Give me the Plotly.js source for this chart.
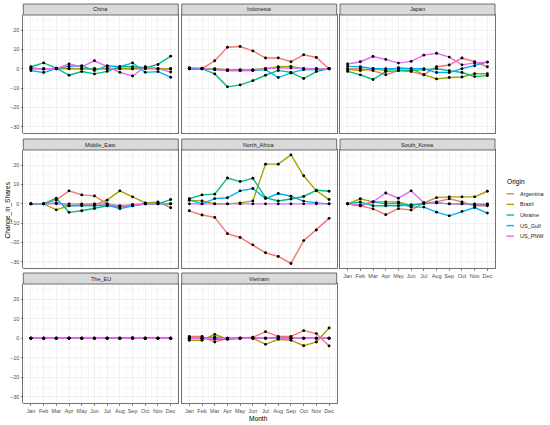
<!DOCTYPE html>
<html>
<head>
<meta charset="utf-8">
<script src="https://cdn.plot.ly/plotly-3.0.1.min.js"></script>
<style>html,body{margin:0;padding:0;background:#fff;}#chart{width:550px;height:425px;}</style>
</head>
<body>
<div id="chart"></div>
<script>
// ---------- data ----------
const months = ['Jan','Feb','Mar','Apr','May','Jun','Jul','Aug','Sep','Oct','Nov','Dec'];
const monthNum = [1,2,3,4,5,6,7,8,9,10,11,12];
const origins = ['Argentina','Brazil','Ukraine','US_Gulf','US_PNW'];
const originColors = ['#F8766D','#A3A500','#00BF7D','#00B0F6','#E76BF3'];
const regions = ['China','Indonesia','Japan','Middle_East','North_Africa','South_Korea','The_EU','Vietnam'];

// each region: [Argentina, Brazil, Ukraine, US_Gulf, US_PNW]
const China = [
  [0.5,-0.3,0.3,0,0,0,0,0,0,0.5,0,0],
  [0,0,0,0,0,0,0,0,0,0,0,0],
  [1,3,0.3,-3.4,-1.5,-2.7,-1.4,1,1,0.5,2.2,6.5],
  [-1,-2,0,1.2,1.5,-1,1.5,1,3,-1.9,-1.5,-4.4],
  [0,0,0,2.4,1,4.1,1,-1.9,-3.8,1,0,-1.7]
];
const Indonesia = [
  [0,0,4.1,11.1,11.5,9.2,5.5,5.6,3.6,7.2,5.8,0],
  [0,0,0,-0.5,-0.5,-0.5,0,1,1.2,0,0,0],
  [0,0,-2.7,-9.4,-8.4,-6.2,-3.4,-0.9,-1.9,-5.1,-1.5,0],
  [0,0,-0.5,-1,-1,-1,-0.5,-4.6,-2.2,-0.5,-0.5,0],
  [0.5,0.3,-0.5,-1,-1,-0.8,0,0.5,0.3,0,0,0]
];
const Japan = [
  [0,0,-1,-3.1,-1,-1.5,-3.1,1,1.9,5.5,3.6,1],
  [-0.5,-1,0,-1,0.5,0,-3.1,-5.3,-4.6,-4.3,-2.6,-2.6],
  [-1.4,-3.2,-5.6,-1.5,-1,-1,-0.5,0,-1,-2,-4.1,-3.6],
  [1.2,1,0,0,0,0,0,-2,-2,0,1.5,3.4],
  [2.4,3.6,6.3,4.8,2.9,3.8,7,8,6,2,3,3.4]
];
const Middle_East = [
  [0,0,2,6.7,4.6,4.1,0,-1,-0.5,0,0.5,0],
  [0,0,-3.1,-1,-0.5,-0.5,1.9,6.7,3.6,0.5,1,-2],
  [0,0,2.9,-4.4,-3.6,-2.4,-1,-1.5,-1,0,0,2.2],
  [0,0,0.5,-1,-1,-1,-0.5,-2.5,-1,0,0,0],
  [0,0,0,0,0,0,0,-1.5,-0.5,0,0,0]
];
const North_Africa = [
  [-3.6,-5.8,-7,-15.4,-17.4,-21.2,-25.3,-27.2,-30.8,-19,-13.5,-7.5],
  [1.8,1.5,0,0,0.5,1.5,20.5,20.5,25.3,14.5,6.7,2.2],
  [2.6,4.6,5,13.3,11.5,13.2,3.2,1.5,2.5,3.8,7,6.5],
  [2,0,2.7,3.1,6.7,7.9,2.7,5.3,3.9,1.4,0.5,0],
  [0,0,0,0,0,0,0,0,0,0,0,0]
];
const South_Korea = [
  [0,-1,-2.6,-5.6,-2.5,-3.2,0.5,1,2.6,1,-1,-1],
  [0,2.6,1,1,1,-1,0.5,3.2,3.6,3.6,3.6,6.5],
  [0,1,-1,-1,-1,-0.5,0,0.5,0,0,-0.5,-0.5],
  [0,-1,1,0,0.3,-1.7,-1.7,-4.3,-6.2,-3.9,-1.9,-4.8],
  [0,-0.5,1,5.6,2.9,6.7,0.5,0.5,0,0,0,0]
];
const The_EU = [
  [0,0,0,0,0,0,0,0,0,0,0,0],
  [0,0,0,0,0,0,0,0,0.3,0,0,0],
  [0,0,0,0,0,0,0,0,0,0,0,0],
  [0,0,0,0,0,0,0,-0.2,0,0,-0.2,0],
  [0,0,0,0,0,0,0,0,0,0,0,0]
];
const Vietnam = [
  [1,1,-1.9,0,0,0.5,3.4,1,1,3.9,2.4,-3.9],
  [-1,-1,2,-0.5,0,0,-3.1,-0.5,-1,-3.8,-1.9,5.3],
  [0,0,0.5,0,0,0,0,0.5,0,0,0,0],
  [0,0,-0.5,-0.5,0,0,0,0,0,0,0,0],
  [0,0,0,0,0,0,0,0,0,0,0,0]
];
const yTicks = [-30,-20,-10,0,10,20];

const regionData = [China, Indonesia, Japan, Middle_East, North_Africa, South_Korea, The_EU, Vietnam];

// ---------- layout geometry (pixels) ----------
const W = 550, H = 425;
const colsPx = [[23.3,178.3],[181.7,336.7],[340,495]];
const rowsPx = [[15,133],[150,268.3],[284,403.3]];
const stripH = 11;
const FONT = 'Liberation Sans, Arial, sans-serif';
const SMALL = 5.5, BIG = 6.6;

const traces = [];
const pointTraces = [];
const layout = {
  width: W, height: H, autosize: false,
  margin: {l:0,r:0,t:0,b:0,pad:0},
  paper_bgcolor: '#ffffff', plot_bgcolor: '#ffffff',
  showlegend: false,
  font: {family: FONT, size: SMALL, color: '#4D4D4D'},
  shapes: [], annotations: []
};

regions.forEach((reg, i) => {
  const row = Math.floor(i/3), col = i % 3;
  const n = i === 0 ? '' : String(i+1);
  const xa = 'x' + n, ya = 'y' + n;
  const data = regionData[i];
  data.forEach((vals, j) => {
    traces.push({
      type: 'scatter', mode: 'lines', x: monthNum, y: vals,
      xaxis: xa, yaxis: ya, line: {color: originColors[j], width: 1.4},
      hoverinfo: 'skip', showlegend: false, name: origins[j]
    });
    pointTraces.push({
      type: 'scatter', mode: 'markers', x: monthNum, y: vals,
      xaxis: xa, yaxis: ya, marker: {color: '#000000', size: 2.9},
      hoverinfo: 'skip', showlegend: false
    });
  });
  const [x0, x1] = colsPx[col];
  const [top, bot] = rowsPx[row];
  const bottomOfCol = (row === 2) || (row === 1 && col === 2);
  const leftCol = col === 0;
  layout['xaxis' + n] = {
    domain: [x0/W, x1/W], anchor: ya, range: [0.4, 12.6],
    tickmode: 'array', tickvals: monthNum, ticktext: months,
    showticklabels: bottomOfCol, ticks: bottomOfCol ? 'outside' : '',
    ticklen: 2, tickwidth: 0.6, tickcolor: '#333333',
    tickfont: {family: FONT, size: SMALL, color: '#4D4D4D'},
    showgrid: true, gridcolor: '#EBEBEB', gridwidth: 0.7,
    minor: {tick0: 0.5, dtick: 1, showgrid: true, gridcolor: '#F2F2F2', gridwidth: 0.5, ticks: ''},
    zeroline: false, showline: true, mirror: true, linecolor: '#4D4D4D', linewidth: 0.8,
    fixedrange: true
  };
  layout['yaxis' + n] = {
    domain: [(H-bot)/H, (H-top)/H], anchor: xa, range: [-33.3, 27.8],
    tickmode: 'array', tickvals: yTicks,
    showticklabels: leftCol, ticks: leftCol ? 'outside' : '',
    ticklen: 2, tickwidth: 0.6, tickcolor: '#333333',
    tickfont: {family: FONT, size: SMALL, color: '#4D4D4D'},
    showgrid: true, gridcolor: '#EBEBEB', gridwidth: 0.7,
    minor: {tick0: 5, dtick: 10, showgrid: true, gridcolor: '#F2F2F2', gridwidth: 0.5, ticks: ''},
    zeroline: false, showline: true, mirror: true, linecolor: '#4D4D4D', linewidth: 0.8,
    fixedrange: true
  };
  // strip
  layout.shapes.push({
    type: 'rect', xref: 'paper', yref: 'paper',
    x0: x0/W, x1: x1/W, y0: (H-top)/H, y1: (H-top+stripH)/H,
    fillcolor: '#D9D9D9', line: {color: '#4D4D4D', width: 0.8}, layer: 'above'
  });
  layout.annotations.push({
    xref: 'paper', yref: 'paper', x: (x0+x1)/2/W, y: (H-top+stripH/2)/H,
    text: reg, showarrow: false, xanchor: 'center', yanchor: 'middle',
    font: {family: FONT, size: SMALL, color: '#1A1A1A'}
  });
});

// axis titles
layout.annotations.push({
  xref: 'paper', yref: 'paper', x: 7.5/W, y: (H-210)/H, text: 'Change_in_Shares',
  textangle: -90, showarrow: false, xanchor: 'center', yanchor: 'middle',
  font: {family: FONT, size: BIG, color: '#000000'}
});
layout.annotations.push({
  xref: 'paper', yref: 'paper', x: 258/W, y: (H-418.5)/H, text: 'Month',
  showarrow: false, xanchor: 'center', yanchor: 'middle',
  font: {family: FONT, size: BIG, color: '#000000'}
});

// legend (drawn manually to match ggplot key geometry)
layout.annotations.push({
  xref: 'paper', yref: 'paper', x: 505/W, y: (H-182)/H, text: 'Origin',
  showarrow: false, xanchor: 'left', yanchor: 'middle',
  font: {family: FONT, size: BIG, color: '#000000'}
});
origins.forEach((o, j) => {
  const yc = 193.8 + j*10.6;
  layout.shapes.push({
    type: 'line', xref: 'paper', yref: 'paper',
    x0: 506.5/W, x1: 514/W, y0: (H-yc)/H, y1: (H-yc)/H,
    line: {color: originColors[j], width: 1.4}
  });
  layout.annotations.push({
    xref: 'paper', yref: 'paper', x: 518/W, y: (H-yc)/H, text: o,
    showarrow: false, xanchor: 'left', yanchor: 'middle',
    font: {family: FONT, size: SMALL, color: '#1A1A1A'}
  });
});

Plotly.newPlot('chart', traces.concat(pointTraces), layout, {displayModeBar: false, staticPlot: true});
</script>
</body>
</html>
